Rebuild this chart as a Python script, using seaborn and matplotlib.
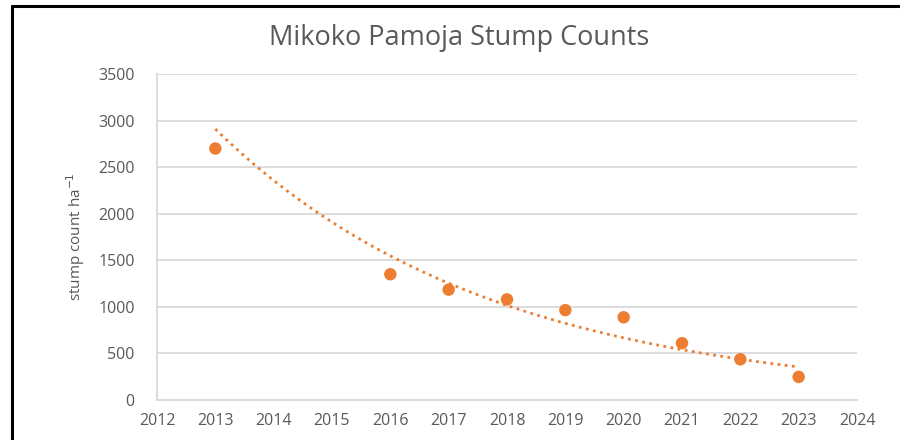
import numpy as np
import pandas as pd
import matplotlib
matplotlib.use("Agg")
import matplotlib.pyplot as plt
from matplotlib.lines import Line2D
import seaborn as sns

years = [2013, 2016, 2017, 2018, 2019, 2020, 2021, 2022, 2023]
stumps = [2700, 1350, 1185, 1080, 965, 888, 610, 437, 248]
x_ticks = [2012, 2013, 2014, 2015, 2016, 2017, 2018, 2019, 2020, 2021, 2022, 2023, 2024]
y_ticks = [0, 500, 1000, 1500, 2000, 2500, 3000, 3500]
title = "Mikoko Pamoja Stump Counts"
ylabel = "stump count ha$^{-1}$"

sns.set_theme(style="white")
plt.rcParams['font.family'] = ['Open Sans', 'DejaVu Sans']

orange = "#ED7D31"
grey_txt = "#595959"
grid_c = "#D9D9D9"

df = pd.DataFrame({"year": years, "stumps": stumps})

# exponential trendline (least squares on log values)
b, a = np.polyfit(np.array(years, float), np.log(np.array(stumps, float)), 1)
tx = np.linspace(min(years), max(years), 200)
trend = pd.DataFrame({"year": tx, "fit": np.exp(a + b * tx)})

fig = plt.figure(figsize=(9, 4.4), dpi=100)
ax = fig.add_axes([157/900, 1-400/440, 700/900, 326/440])

sns.lineplot(data=trend, x="year", y="fit", ax=ax, color=orange,
             linestyle=(0, (1, 1.6)), linewidth=2.0, zorder=2)
sns.scatterplot(data=df, x="year", y="stumps", ax=ax, color=orange,
                s=80, edgecolor="none", zorder=3)

ax.set_xlim(2012, 2024)
ax.set_ylim(0, 3500)
ax.set_xticks(x_ticks)
ax.set_yticks(y_ticks)
ax.set_xticklabels([str(v) for v in x_ticks])
ax.set_yticklabels([str(v) for v in y_ticks])
ax.yaxis.grid(True, color=grid_c, linewidth=1.3)
ax.xaxis.grid(False)
for side in ["top", "right"]:
    ax.spines[side].set_visible(False)
for side in ["left", "bottom"]:
    ax.spines[side].set_color(grid_c)
    ax.spines[side].set_linewidth(1.3)
ax.tick_params(axis="both", length=0, colors=grey_txt, labelsize=11.5)
ax.tick_params(axis="y", pad=16)
ax.tick_params(axis="x", pad=9)
ax.set_xlabel("")
ax.set_ylabel(ylabel, color=grey_txt, fontsize=11, labelpad=8)

fig.text(459/900, 1-38/440, title, ha="center", va="center",
         fontsize=19.5, color=grey_txt)

# outer frame lines (top and left)
fig.add_artist(Line2D([12/900, 12/900], [0, 1-6/440], color="black",
                      linewidth=2.2, transform=fig.transFigure))
fig.add_artist(Line2D([12/900, 1], [1-6/440, 1-6/440], color="black",
                      linewidth=2.2, transform=fig.transFigure))

fig.savefig("out.png", dpi=100)
